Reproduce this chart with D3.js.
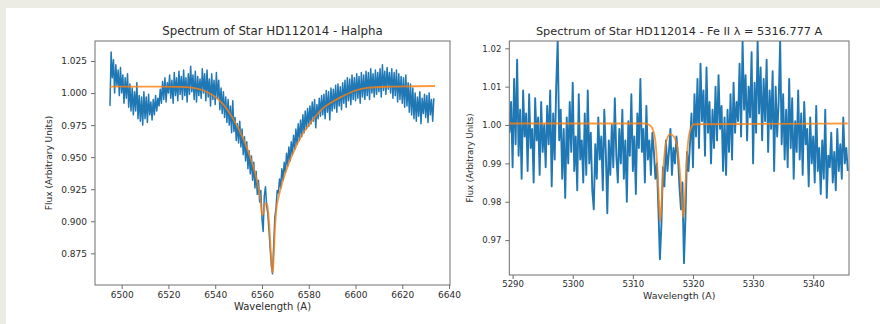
<!DOCTYPE html>
<html>
<head>
<meta charset="utf-8">
<script src="https://cdn.jsdelivr.net/npm/d3@7"></script>
<style>
  html, body { margin: 0; padding: 0; background: #ffffff; }
  svg { display: block; }
  text { font-family: "DejaVu Sans", sans-serif; fill: #2b2b2b; }
</style>
</head>
<body>
<svg id="chart" width="880" height="324"></svg>
<script>
// ---------- H-alpha spectrum (0.5 Å sampling starting at 6495.0 Å) ----------
const haStart = 6495.0;
const haStep = 0.5;
const haFlux = [
  0.990, 1.032, 1.012, 1.026, 1.000, 1.022, 1.006, 1.018, 0.998, 1.020,
  1.000, 1.014, 0.992, 1.012, 0.996, 1.015, 0.989, 1.007, 0.986, 1.004,
  0.983, 1.001, 0.986, 1.008, 0.980, 0.998, 0.978, 0.997, 0.975, 1.001,
  0.980, 0.997, 0.977, 0.999, 0.983, 0.993, 0.979, 0.995, 0.983, 0.998,
  0.986, 0.996, 0.990, 1.003, 0.992, 1.009, 0.995, 1.012, 0.993, 1.008,
  1.000, 1.014, 0.996, 1.010, 0.992, 1.016, 0.998, 1.012, 0.994, 1.017,
  0.999, 1.013, 0.995, 1.018, 0.998, 1.012, 0.993, 1.015, 0.999, 1.021,
  1.001, 1.014, 0.995, 1.017, 0.993, 1.013, 0.998, 1.011, 0.996, 1.019,
  1.000, 1.015, 0.994, 1.018, 0.997, 1.011, 0.990, 1.015, 0.995, 1.010,
  0.991, 1.016, 0.996, 1.010, 0.987, 1.004, 0.984, 1.001, 0.981, 0.997,
  0.977, 0.995, 0.975, 0.990, 0.969, 0.994, 0.970, 0.981, 0.963, 0.976,
  0.961, 0.978, 0.958, 0.972, 0.952, 0.966, 0.947, 0.962, 0.941, 0.955,
  0.937, 0.951, 0.932, 0.946, 0.926, 0.939, 0.921, 0.932, 0.915, 0.924,
  0.902, 0.892, 0.920, 0.927, 0.912, 0.906, 0.893, 0.879, 0.866, 0.859,
  0.881, 0.903, 0.910, 0.924, 0.922, 0.933, 0.926, 0.941, 0.932, 0.946,
  0.938, 0.953, 0.943, 0.958, 0.947, 0.962, 0.952, 0.967, 0.956, 0.972,
  0.960, 0.976, 0.963, 0.979, 0.966, 0.983, 0.969, 0.986, 0.972, 0.988,
  0.974, 0.990, 0.976, 0.993, 0.978, 0.995, 0.973, 0.991, 0.980, 0.996,
  0.982, 0.998, 0.983, 0.999, 0.980, 1.002, 0.985, 1.001, 0.979, 1.004,
  0.986, 1.003, 0.988, 1.006, 0.985, 1.007, 0.990, 1.005, 0.987, 1.008,
  0.992, 1.010, 0.989, 1.012, 0.994, 1.011, 0.991, 1.014, 0.995, 1.012,
  0.994, 1.015, 0.996, 1.013, 0.992, 1.016, 0.997, 1.014, 0.995, 1.017,
  0.998, 1.016, 0.995, 1.019, 1.000, 1.015, 0.997, 1.018, 0.999, 1.016,
  1.001, 1.019, 0.997, 1.022, 1.002, 1.017, 0.999, 1.020, 1.003, 1.016,
  1.000, 1.019, 0.996, 1.016, 0.998, 1.018, 0.993, 1.015, 0.995, 1.013,
  0.992, 1.012, 0.989, 1.014, 0.990, 1.008, 0.985, 1.007, 0.983, 1.004,
  0.980, 1.000, 0.978, 0.997, 0.982, 1.001, 0.976, 0.996, 0.984, 0.999,
  0.981, 0.998, 0.977, 1.000, 0.983, 0.995, 0.978, 0.996
];

// Fitted H-alpha profile
const haFitWave = [6495, 6505, 6515, 6525, 6530, 6535, 6540, 6544, 6547, 6550,
  6553, 6555, 6557, 6558.5, 6559.4, 6560.0, 6560.6, 6561.4, 6562.2, 6563.0,
  6563.6, 6564.2, 6564.6, 6565.0, 6565.6, 6566.2, 6567.0, 6569, 6571, 6573,
  6575, 6577, 6580, 6583, 6586, 6590, 6595, 6600, 6605, 6615, 6625, 6634];
const haFitFlux = [1.005, 1.005, 1.005, 1.0048, 1.0042, 1.002, 0.997, 0.990, 0.982, 0.972,
  0.960, 0.950, 0.938, 0.926, 0.916, 0.905, 0.906, 0.914, 0.913, 0.900,
  0.882, 0.864, 0.860, 0.871, 0.896, 0.910, 0.918, 0.932, 0.943, 0.952,
  0.960, 0.967, 0.975, 0.982, 0.988, 0.993, 0.998, 1.002, 1.004, 1.005, 1.0053, 1.0055];

const haXTicks = [6500, 6520, 6540, 6560, 6580, 6600, 6620, 6640];
const haYTicks = [0.875, 0.900, 0.925, 0.950, 0.975, 1.000, 1.025];

// ---------- Fe II 5316.777 Å spectrum (0.25 Å sampling starting at 5289.5 Å) ----------
const feStart = 5289.5;
const feStep = 0.25;
const feFlux = [
  0.998, 1.006, 0.989, 1.012, 0.995, 1.017, 0.992, 1.004,
  0.986, 1.009, 0.997, 1.003, 0.988, 1.008, 0.994, 0.999,
  0.985, 1.007, 0.996, 1.002, 0.987, 1.006, 0.993, 1.000,
  0.989, 1.005, 0.995, 1.009, 0.984, 1.003, 0.991, 1.010,
  1.022, 0.996, 1.004, 0.986, 0.999, 0.981, 1.002, 0.990,
  1.006, 0.993, 1.011, 0.988, 0.997, 0.983, 1.008, 0.991,
  0.996, 0.985, 1.003, 0.987, 1.009, 0.990, 0.998, 0.983,
  0.978, 0.995, 0.986, 1.002, 0.991, 0.997, 0.983, 1.004,
  0.993, 0.977, 0.996, 0.987, 1.000, 0.989, 1.007, 0.992,
  0.985, 0.999, 0.990, 1.004, 0.986, 0.996, 0.980, 1.001,
  0.992, 1.008, 0.988, 0.997, 0.982, 1.003, 0.994, 1.012,
  0.993, 0.999, 0.985, 1.005, 0.991, 0.996, 0.987, 0.998,
  0.993, 0.986, 0.990, 0.978, 0.965, 0.974, 0.989, 0.984,
  0.996, 0.988, 0.993, 0.999, 0.987, 0.994, 0.990, 0.997,
  0.992, 0.984, 0.978, 0.985, 0.964, 0.976, 0.993, 0.988,
  0.995, 1.003, 0.989, 1.008, 0.997, 1.012, 0.994, 1.016,
  1.001, 1.009, 0.992, 1.015, 0.998, 1.006, 0.990, 1.004,
  0.994, 1.010, 0.996, 1.013, 0.999, 1.005, 0.988, 1.002,
  0.987, 1.004, 0.993, 1.008, 0.991, 1.011, 0.998, 1.006,
  1.001, 1.016, 0.997, 1.022, 1.004, 1.013, 0.996, 1.010,
  1.002, 1.019, 0.990, 1.011, 0.998, 1.022, 1.003, 1.015,
  0.996, 1.012, 1.001, 1.017, 0.993, 1.009, 0.999, 1.014,
  0.988, 1.010, 0.997, 1.006, 1.022, 0.995, 1.008, 0.991,
  1.004, 0.989, 1.012, 0.994, 1.007, 0.986, 1.001, 0.993,
  1.009, 0.991, 1.003, 0.987, 1.006, 0.995, 0.999, 0.984,
  1.002, 0.990, 0.997, 0.985, 1.005, 0.988, 0.994, 0.982,
  0.996, 0.986, 1.004, 0.981, 0.992, 0.989, 0.998, 0.985,
  0.993, 0.983, 0.999, 0.988, 0.995, 0.986, 1.002, 0.990,
  0.994, 0.988
];

// Fitted Fe II double-line profile
const feFitWave = [5289.5, 5312.0, 5312.8, 5313.4, 5313.8, 5314.1, 5314.35, 5314.55, 5314.75, 5315.0,
  5315.3, 5315.7, 5316.2, 5316.8, 5317.3, 5317.7, 5318.0, 5318.2, 5318.4, 5318.6,
  5318.8, 5319.1, 5319.5, 5320.2, 5345.75];
const feFitFlux = [1.0004, 1.0004, 1.0000, 0.9985, 0.995, 0.988, 0.980, 0.9748, 0.979, 0.987,
  0.993, 0.9965, 0.9976, 0.9970, 0.995, 0.990, 0.984, 0.979, 0.976, 0.979,
  0.986, 0.994, 0.9985, 1.0002, 1.0004];

const feXTicks = [5290, 5300, 5310, 5320, 5330, 5340];
const feYTicks = [0.97, 0.98, 0.99, 1.00, 1.01, 1.02];

// ---------- drawing ----------
const svg = d3.select("#chart");
const BLUE = "#1f77b4";
const ORANGE = "#ff7f0e";
const SPINE = "#6e6e6e";

// page margin strip
svg.append("rect").attr("x", 0).attr("y", 0).attr("width", 880).attr("height", 8).attr("fill", "#ecece4");
svg.append("rect").attr("x", 0).attr("y", 0).attr("width", 6).attr("height", 324).attr("fill", "#ecece4");

function panel(cfg) {
  const x = d3.scaleLinear().domain(cfg.xDomain).range([cfg.left, cfg.right]);
  const y = d3.scaleLinear().domain(cfg.yDomain).range([cfg.bottom, cfg.top]);
  const g = svg.append("g");

  const clipId = "clip-" + cfg.id;
  g.append("clipPath").attr("id", clipId)
    .append("rect")
    .attr("x", cfg.left).attr("y", cfg.top)
    .attr("width", cfg.right - cfg.left).attr("height", cfg.bottom - cfg.top);

  const pts = cfg.flux.map((f, i) => [cfg.start + i * cfg.step, f]);
  const line = d3.line().x(d => x(d[0])).y(d => y(d[1]));

  g.append("path")
    .datum(pts)
    .attr("clip-path", `url(#${clipId})`)
    .attr("fill", "none")
    .attr("stroke", BLUE)
    .attr("stroke-width", cfg.blueWidth)
    .attr("stroke-linejoin", "round")
    .attr("d", line);

  const fitPts = cfg.fitWave.map((w, i) => [w, cfg.fitFlux[i]]);
  g.append("path")
    .datum(fitPts)
    .attr("clip-path", `url(#${clipId})`)
    .attr("fill", "none")
    .attr("stroke", ORANGE)
    .attr("stroke-opacity", 0.8)
    .attr("stroke-width", 1.8)
    .attr("d", d3.line().x(d => x(d[0])).y(d => y(d[1])).curve(d3.curveMonotoneX));

  // axes
  const xAxis = d3.axisBottom(x).tickValues(cfg.xTicks).tickSize(4).tickPadding(cfg.xPad)
    .tickFormat(d3.format("d"));
  const yAxis = d3.axisLeft(y).tickValues(cfg.yTicks).tickSize(4).tickPadding(4)
    .tickFormat(d3.format(cfg.yFmt));

  const gx = g.append("g").attr("transform", `translate(0,${cfg.bottom})`).call(xAxis);
  const gy = g.append("g").attr("transform", `translate(${cfg.left},0)`).call(yAxis);
  [gx, gy].forEach(a => {
    a.select(".domain").remove();
    a.selectAll("line").attr("stroke", SPINE);
    a.selectAll("text").attr("font-size", cfg.tickFont).attr("fill", "#333");
  });

  // frame
  g.append("rect")
    .attr("x", cfg.left).attr("y", cfg.top)
    .attr("width", cfg.right - cfg.left).attr("height", cfg.bottom - cfg.top)
    .attr("fill", "none").attr("stroke", SPINE).attr("stroke-width", 1);

  // labels
  const cx = (cfg.left + cfg.right) / 2;
  g.append("text").attr("x", cx).attr("y", cfg.titleY)
    .attr("text-anchor", "middle").attr("dominant-baseline", "central")
    .attr("font-size", cfg.titleFont).text(cfg.title);
  g.append("text").attr("x", cx).attr("y", cfg.xLabelY)
    .attr("text-anchor", "middle").attr("dominant-baseline", "central")
    .attr("font-size", cfg.xLabelFont).text("Wavelength (A)");
  const cy = (cfg.top + cfg.bottom) / 2;
  g.append("text")
    .attr("transform", `translate(${cfg.yLabelX},${cy}) rotate(-90)`)
    .attr("text-anchor", "middle").attr("dominant-baseline", "central")
    .attr("font-size", cfg.yLabelFont).text("Flux (Arbitrary Units)");
}

panel({
  id: "ha", left: 95, right: 450, top: 41, bottom: 285,
  xDomain: [6488.6, 6640.4], yDomain: [0.8503, 1.0406],
  start: haStart, step: haStep, flux: haFlux,
  fitWave: haFitWave, fitFlux: haFitFlux,
  xTicks: haXTicks, yTicks: haYTicks, yFmt: ".3f", xPad: 3,
  blueWidth: 1.5, tickFont: 9, xLabelFont: 10, yLabelFont: 9, titleFont: 11.8,
  title: "Spectrum of Star HD112014 - Halpha",
  titleY: 31, xLabelY: 306, yLabelX: 49
});

panel({
  id: "fe", left: 509.3, right: 849, top: 41, bottom: 275,
  xDomain: [5289.45, 5345.95], yDomain: [0.9609, 1.0219],
  start: feStart, step: feStep, flux: feFlux,
  fitWave: feFitWave, fitFlux: feFitFlux,
  xTicks: feXTicks, yTicks: feYTicks, yFmt: ".2f", xPad: 2,
  blueWidth: 1.9, tickFont: 8.5, xLabelFont: 9.4, yLabelFont: 8.5, titleFont: 11.3,
  title: "Spectrum of Star HD112014 - Fe II λ = 5316.777 A",
  titleY: 31.5, xLabelY: 295, yLabelX: 470
});
</script>
</body>
</html>
